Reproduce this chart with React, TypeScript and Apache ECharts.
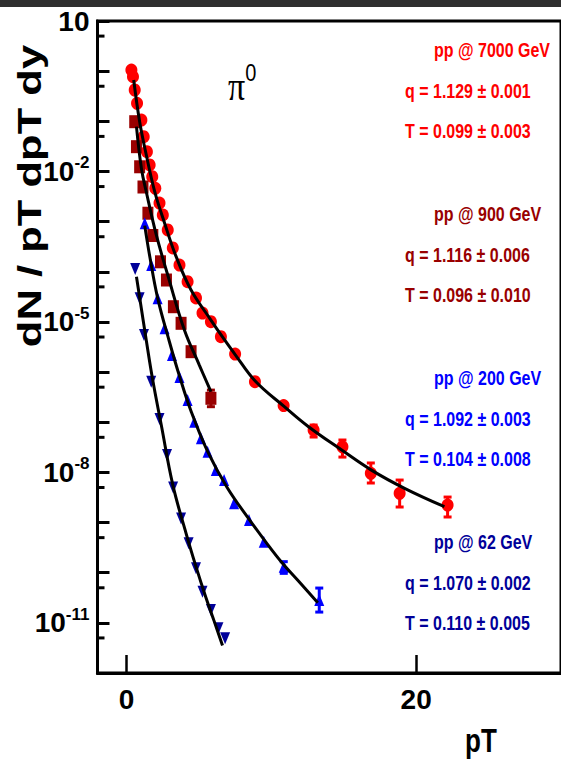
import { useEffect, useRef } from "react";
import * as echarts from "echarts";

// pp @ 7000 GeV (pi0), data points
const pt7000 = [0.34, 0.45, 0.57, 0.73, 1.03, 1.19, 1.41, 1.6, 1.78, 1.99, 2.28, 2.51, 2.85, 3.2, 3.66, 4.22, 4.8, 5.25, 5.83, 6.52, 7.5, 8.87, 10.85, 12.92, 14.91, 16.87, 18.86, 22.17];
const y7000 = [1.05, 0.774, 0.421, 0.229, 0.106, 0.0493, 0.0248, 0.0135, 0.00785, 0.00461, 0.00235, 0.00136, 6.81e-4, 2.98e-4, 1.36e-4, 6.34e-5, 3.0e-5, 1.5e-5, 1.01e-5, 5.07e-6, 2.29e-6, 6.43e-7, 2.15e-7, 6.98e-8, 3.24e-8, 9.57e-9, 3.82e-9, 2.23e-9];
// error bars: [pT, low, high]
const err7000 = [
  [12.92, 5.07e-8, 8.79e-8],
  [14.91, 2.02e-8, 4.42e-8],
  [16.87, 6.14e-9, 1.54e-8],
  [18.86, 2.04e-9, 7.03e-9],
  [22.17, 1.29e-9, 3.22e-9],
];
// Tsallis fit curve
const fitPt7000 = [0.5, 0.91, 1.37, 1.94, 2.63, 3.43, 4.46, 5.83, 6.63, 7.54, 8.92, 10.86, 12.57, 14.86, 16.91, 19.2, 21.95];
const fitY7000 = [0.667, 0.0982, 0.0213, 0.00407, 9.38e-4, 2.0e-4, 4.33e-5, 1.09e-5, 5.01e-6, 2.16e-6, 6.46e-7, 2.09e-7, 8.13e-8, 2.79e-8, 1.11e-8, 4.81e-9, 2.07e-9];

// pp @ 900 GeV
const pt900 = [0.57, 0.69, 0.91, 1.14, 1.48, 1.82, 2.35, 2.76, 3.24, 3.77, 4.46, 5.83];
const y900 = [0.0982, 0.0312, 0.0124, 0.0049, 0.00147, 5.28e-4, 1.58e-4, 6.85e-5, 2.01e-5, 9.38e-6, 2.55e-6, 3.0e-7];
const err900 = [[5.83, 2.04e-7, 4.37e-7]];
const fitPt900 = [0.69, 1.03, 1.37, 2.06, 2.85, 4.0, 5.03, 5.83];
const fitY900 = [0.078, 0.0116, 0.00389, 5.41e-4, 8.61e-5, 6.9e-6, 1.38e-6, 4.06e-7];

// pp @ 200 GeV
const pt200 = [1.26, 1.71, 2.15, 2.63, 3.14, 3.66, 4.22, 4.68, 5.14, 5.6, 6.17, 6.74, 7.43, 8.46, 9.48, 10.86, 13.31];
const y200 = [9.25e-4, 1.36e-4, 2.96e-5, 7.45e-6, 2.19e-6, 7.96e-7, 2.77e-7, 1.02e-7, 4.78e-8, 2.58e-8, 1.11e-8, 7.03e-9, 2.42e-9, 1.12e-9, 4.14e-10, 1.32e-10, 2.85e-11];
const err200 = [
  [10.86, 9.7e-11, 1.66e-10],
  [13.31, 1.64e-11, 4.94e-11],
];
const fitPt200 = [1.26, 1.6, 2.15, 2.97, 3.66, 4.46, 5.6, 6.95, 8.46, 9.6, 10.74, 11.89, 13.21];
const fitY200 = [8.32e-4, 2.09e-4, 3.02e-5, 3.98e-6, 8.32e-7, 1.66e-7, 2.63e-8, 5.01e-9, 1.17e-9, 4.17e-10, 1.58e-10, 6.76e-11, 2.51e-11];

// pp @ 62 GeV
const pt62 = [0.6, 0.91, 1.21, 1.71, 2.28, 2.8, 3.22, 3.77, 4.29, 4.8, 5.25, 5.83, 6.35, 6.81];
const y62 = [1.14e-4, 2.96e-5, 5.48e-6, 6.43e-7, 1.16e-7, 2.22e-8, 4.99e-9, 1.21e-9, 3.85e-10, 1.22e-10, 4.17e-11, 1.8e-11, 7.76e-12, 4.91e-12];
const fitPt62 = [0.69, 1.37, 1.82, 2.4, 3.2, 4.12, 4.8, 5.49, 6.06, 6.63];
const fitY62 = [7.94e-5, 4.27e-6, 6.76e-7, 8.91e-8, 5.62e-9, 6.03e-10, 1.32e-10, 3.16e-11, 1.07e-11, 3.55e-12];

// axis
const yLabelExponents = [1, -2, -5, -8, -11];
const yMinorTicks = [5, 0.5, 0.05, 5e-3, 5e-4, 5e-5, 5e-6, 5e-7, 5e-8, 5e-9, 5e-10, 5e-11, 5e-12];
const xTickValues = [0, 20];

// fit-parameter annotations
const energyLabels = ["pp @ 7000 GeV", "pp @ 900 GeV", "pp @ 200 GeV", "pp @ 62 GeV"];
const qLabels = ["q = 1.129 \u00b1 0.001", "q = 1.116 \u00b1 0.006", "q = 1.092 \u00b1 0.003", "q = 1.070 \u00b1 0.002"];
const tLabels = ["T = 0.099 \u00b1 0.003", "T = 0.096 \u00b1 0.010", "T = 0.104 \u00b1 0.008", "T = 0.110 \u00b1 0.005"];
const colors = ["#ff0000", "#990000", "#0000ff", "#000099"];

const FONT = '"Liberation Sans Narrow", "Liberation Sans", Arial, sans-serif';
const SANS = '"Liberation Sans", Arial, sans-serif';

const pairs = (xs: number[], ys: number[]) => xs.map((x, i) => [x, ys[i]]);

function errorBars(data: number[][], color: string, z = 3) {
  return {
    type: "custom",
    data,
    encode: { x: 0, y: [1, 2] },
    z,
    silent: true,
    renderItem: (_params: any, api: any) => {
      const x = api.value(0);
      const lo = api.coord([x, api.value(1)]);
      const hi = api.coord([x, api.value(2)]);
      const style = { stroke: color, lineWidth: 3 };
      return {
        type: "group",
        children: [
          { type: "line", shape: { x1: lo[0], y1: lo[1], x2: hi[0], y2: hi[1] }, style },
          { type: "line", shape: { x1: lo[0] - 4, y1: lo[1], x2: lo[0] + 4, y2: lo[1] }, style },
          { type: "line", shape: { x1: hi[0] - 4, y1: hi[1], x2: hi[0] + 4, y2: hi[1] }, style },
        ],
      };
    },
  };
}

function fitLine(xs: number[], ys: number[]) {
  return {
    type: "line",
    data: pairs(xs, ys),
    smooth: 0.4,
    showSymbol: false,
    symbol: "none",
    z: 5,
    silent: true,
    lineStyle: { color: "#000", width: 3 },
  };
}

function markers(xs: number[], ys: number[], symbol: string, size: number[], color: string, rotate = 0) {
  return {
    type: "scatter",
    data: pairs(xs, ys),
    symbol,
    symbolSize: size,
    symbolRotate: rotate,
    z: 3,
    silent: true,
    itemStyle: { color, opacity: 1 },
  };
}

const annotationTop = [50, 214, 378, 542];
const annotationStep = 40.5;

function annotations() {
  const out: any[] = [];
  energyLabels.forEach((txt, i) => {
    const y0 = annotationTop[i];
    const rows = [
      { t: txt, x: 434, y: y0 },
      { t: qLabels[i], x: 405, y: y0 + annotationStep },
      { t: tLabels[i], x: 405, y: y0 + annotationStep * 2 },
    ];
    rows.forEach((r) => {
      out.push({
        type: "text",
        x: r.x,
        y: r.y,
        scaleY: 1.3,
        style: {
          text: r.t,
          font: `bold 16px ${SANS}`,
          fill: colors[i],
          align: "left",
          verticalAlign: "middle",
        },
      });
    });
  });
  return out;
}

export default function App() {
  const ref = useRef<HTMLDivElement>(null);

  useEffect(() => {
    if (!ref.current) return;
    const chart = echarts.init(ref.current, null, { renderer: "svg" });
    chart.setOption({
      animation: false,
      backgroundColor: "#ffffff",
      grid: {
        left: 97.5,
        right: -3,
        top: 21,
        bottom: 91,
        show: true,
        borderColor: "#000",
        borderWidth: 3,
        containLabel: false,
      },
      xAxis: {
        type: "value",
        min: -2,
        max: 30,
        axisLine: { show: true, onZero: false, lineStyle: { color: "#000", width: 3 } },
        axisTick: {
          show: true,
          inside: true,
          length: 18,
          customValues: xTickValues,
          lineStyle: { color: "#000", width: 2.5 },
        },
        axisLabel: {
          customValues: xTickValues,
          margin: 12,
          color: "#000",
          fontSize: 28,
          fontWeight: "bold",
          fontFamily: FONT,
        },
        splitLine: { show: false },
      },
      yAxis: {
        type: "log",
        logBase: 10,
        min: 1e-12,
        max: 10,
        interval: 1,
        axisLine: { show: true, onZero: false, lineStyle: { color: "#000", width: 3 } },
        axisTick: { show: true, inside: true, length: 12, lineStyle: { color: "#000", width: 3 } },
        axisLabel: {
          showMinLabel: true,
          showMaxLabel: true,
          margin: 8,
          color: "#000",
          formatter: (v: number) => {
            const e = Math.round(Math.log10(v));
            if (!yLabelExponents.includes(e)) return "";
            return e === 1 ? "{b|10}" : `{b|10}{s|${e}}`;
          },
          rich: {
            b: { fontSize: 28, fontWeight: "bold", fontFamily: FONT, lineHeight: 28, verticalAlign: "bottom", color: "#000" },
            s: { fontSize: 17, fontWeight: "bold", fontFamily: FONT, lineHeight: 17, padding: [0, 0, 14, 0], verticalAlign: "bottom", color: "#000" },
          },
        },
        splitLine: { show: false },
      },
      series: [
        {
          type: "custom",
          data: yMinorTicks.map((v) => [0, v]),
          encode: { x: 0, y: 1 },
          silent: true,
          z: 6,
          renderItem: (params: any, api: any) => {
            const y = api.coord([0, api.value(1)])[1];
            const x0 = params.coordSys.x;
            return {
              type: "line",
              shape: { x1: x0, y1: y, x2: x0 + 7, y2: y },
              style: { stroke: "#000", lineWidth: 3 },
            };
          },
        },
        markers(pt7000, y7000, "circle", [12, 13], colors[0]),
        errorBars(err7000, colors[0]),
        markers(pt900, y900, "rect", [11, 13], colors[1]),
        errorBars(err900, colors[1]),
        markers(pt200, y200, "triangle", [10, 12], colors[2]),
        errorBars(err200, colors[2]),
        markers(pt62, y62, "triangle", [10, 12], colors[3], 180),
        fitLine(fitPt7000, fitY7000),
        fitLine(fitPt900, fitY900),
        fitLine(fitPt200, fitY200),
        fitLine(fitPt62, fitY62),
      ],
      graphic: [
        { type: "rect", left: 0, top: 0, shape: { width: 561, height: 7 }, style: { fill: "#2f2f2f" } },
        {
          type: "text",
          x: 29,
          y: 196,
          rotation: Math.PI / 2,
          scaleX: 1.32,
          style: {
            text: "dN / pT dpT dy",
            font: `bold 33px ${SANS}`,
            fill: "#000",
            align: "center",
            verticalAlign: "middle",
          },
        },
        {
          type: "text",
          x: 465,
          y: 740,
          scaleY: 1.3,
          style: { text: "pT", font: `bold 26px ${SANS}`, fill: "#000", align: "left", verticalAlign: "middle" },
        },
        {
          type: "text",
          x: 228,
          y: 86,
          scaleY: 1.2,
          style: {
            text: "{p|\u03c0}{s|0}",
            align: "left",
            verticalAlign: "middle",
            rich: {
              p: { fontSize: 34, fontFamily: '"Liberation Serif", serif', fill: "#000", verticalAlign: "bottom", lineHeight: 34 },
              s: { fontSize: 20, fontFamily: SANS, fill: "#000", verticalAlign: "bottom", lineHeight: 20, padding: [0, 0, 18, 0] },
            },
          },
        },
        ...annotations(),
      ],
    });
    return () => chart.dispose();
  }, []);

  return (
    <div
      ref={ref}
      style={{ position: "fixed", left: 0, top: 0, width: 561, height: 764, background: "#fff" }}
    />
  );
}
